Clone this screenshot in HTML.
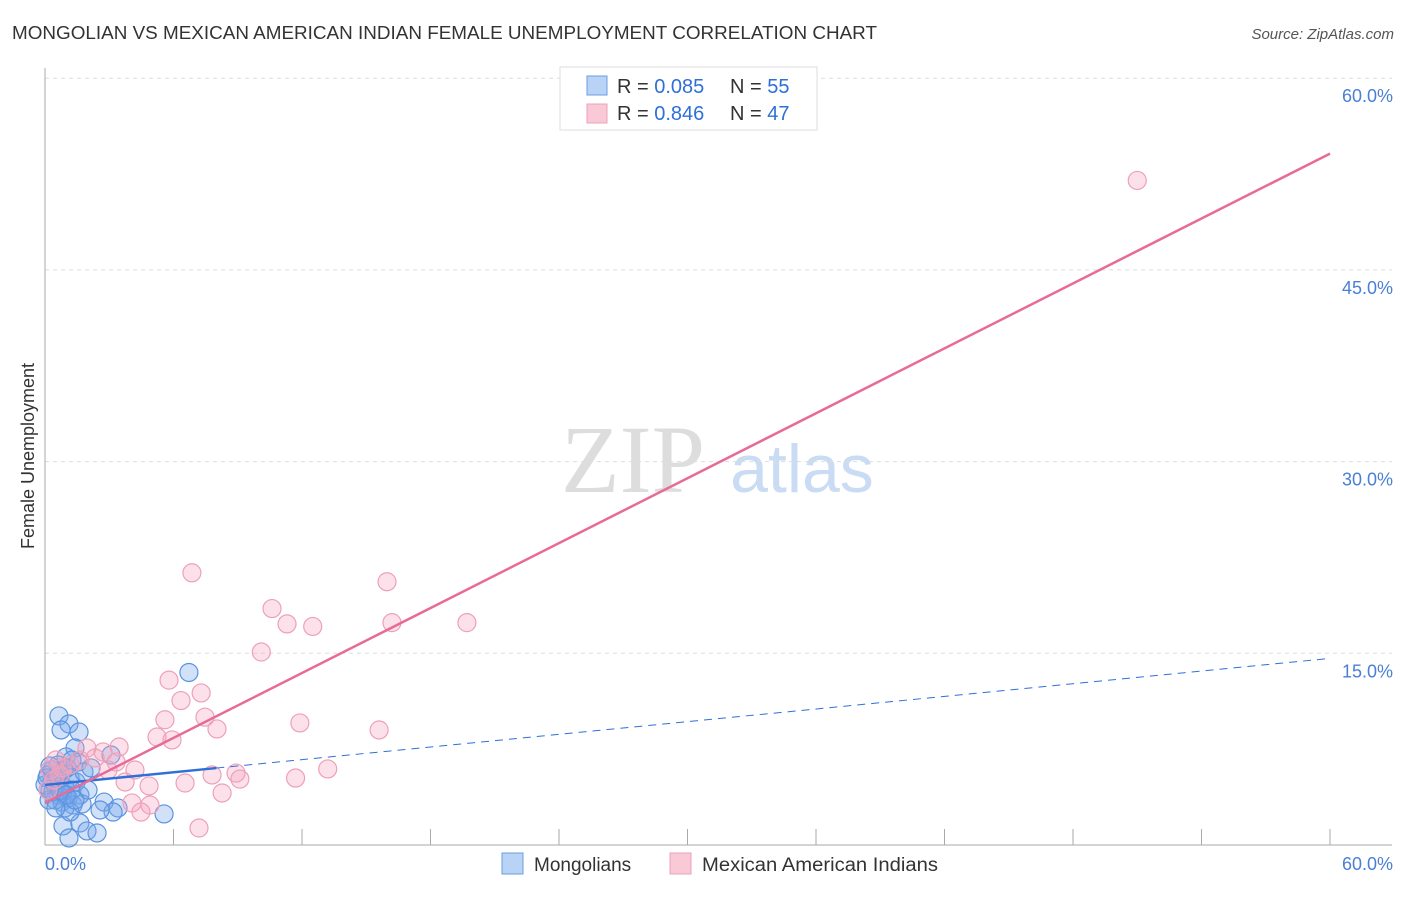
<!DOCTYPE html>
<html><head><meta charset="utf-8"><style>
body{margin:0;background:#fff;font-family:"Liberation Sans",sans-serif;}
</style></head><body>
<svg width="1406" height="892" xmlns="http://www.w3.org/2000/svg">
<text x="12" y="39" font-size="18" fill="#333" textLength="865" lengthAdjust="spacingAndGlyphs">MONGOLIAN VS MEXICAN AMERICAN INDIAN FEMALE UNEMPLOYMENT CORRELATION CHART</text>
<text x="1394" y="39" font-size="15" fill="#555" font-style="italic" text-anchor="end">Source: ZipAtlas.com</text>
<text x="633" y="492" font-size="96" fill="#ddd" font-family="Liberation Serif,serif" text-anchor="middle">ZIP</text>
<text x="802" y="492" font-size="68" fill="#c9dcf3" text-anchor="middle">atlas</text>
<g id="grid"></g>
<g id="axes"></g>
<g id="pts"></g>
<g id="lines"></g>
<text transform="translate(34,456) rotate(-90)" font-size="18" fill="#333" text-anchor="middle">Female Unemployment</text>
<g>
<rect x="560" y="67" width="257" height="63" fill="#fff" stroke="#ddd"/>
<rect x="587" y="76" width="20" height="19" fill="#b8d3f5" stroke="#6d9de0"/>
<text x="617" y="93" font-size="20" fill="#333">R = <tspan fill="#2f6fd8">0.085</tspan></text>
<text x="730" y="93" font-size="20" fill="#333">N = <tspan fill="#2f6fd8">55</tspan></text>
<rect x="587" y="104" width="20" height="19" fill="#f9c9d8" stroke="#eea0b8"/>
<text x="617" y="120" font-size="20" fill="#333">R = <tspan fill="#2f6fd8">0.846</tspan></text>
<text x="730" y="120" font-size="20" fill="#333">N = <tspan fill="#2f6fd8">47</tspan></text>
</g>
<g>
<rect x="502" y="853" width="21" height="21" fill="#b8d3f5" stroke="#6d9de0"/>
<text x="534" y="871" font-size="19" fill="#333">Mongolians</text>
<rect x="670" y="853" width="21" height="21" fill="#f9c9d8" stroke="#eea0b8"/>
<text x="702" y="871" font-size="19" fill="#333" textLength="236" lengthAdjust="spacingAndGlyphs">Mexican American Indians</text>
</g>
</svg>
<script>
const yTicks=[15,30,45,60];
const yTickLabels=["15.0%","30.0%","45.0%","60.0%"];
const xTickLabels=["0.0%","60.0%"];
const blueX=[0.65,1.12,0.75,1.59,1.40,0.98,3.08,6.72,0.33,1.17,0.70,0.14,0.47,0.93,1.26,0.23,0.61,1.07,1.63,0.79,1.31,1.73,2.76,3.41,3.18,0.93,0.47,2.57,5.56,0.84,1.63,1.96,2.43,1.12,0.33,0.19,0.61,1.03,1.45,2.01,0,0.09,0.37,1.17,0.70,0.98,1.40,0.51,0.89,1.54,1.82,2.15,1.26,0.56,0.23];
const blueY=[10.1,9.47,9.0,8.84,7.59,6.89,7.04,13.5,5.87,5.24,5.09,5.48,4.70,4.46,4.30,4.30,3.91,3.68,3.91,3.36,3.13,3.21,3.36,2.90,2.58,2.90,3.52,2.74,2.43,1.49,1.72,1.10,0.94,0.55,5.09,3.52,6.26,6.03,4.93,4.30,4.70,5.24,4.15,2.58,4.30,3.91,3.52,2.90,5.87,6.49,5.71,6.03,6.65,5.40,6.18];
const pinkX=[51.0,6.86,15.97,10.6,11.3,12.5,16.2,19.7,10.1,5.79,7.29,6.35,5.6,7.47,11.9,8.03,15.6,5.23,5.93,1.96,3.46,2.71,2.34,3.32,4.20,2.94,8.92,7.80,13.2,9.1,11.7,3.74,6.54,4.86,8.27,4.06,4.90,4.48,7.19,0.51,0.79,0.23,1.17,0.42,0.14,0.70,1.63];
const pinkY=[52.0,21.3,20.6,18.5,17.3,17.1,17.4,17.4,15.1,12.9,11.9,11.3,9.8,10.0,9.55,9.08,9.0,8.45,8.22,7.59,7.67,7.28,6.81,6.49,5.87,5.87,5.63,5.48,5.95,5.16,5.24,4.93,4.85,4.62,4.07,3.29,3.13,2.58,1.33,6.65,6.03,5.87,6.26,5.09,4.30,5.48,6.65];
const blueTrend=[4.7,14.6], blueSolidEnd=8.0;
const pinkTrend=[3.3,54.1];
const NS="http://www.w3.org/2000/svg";
const X=v=>45+v/60*1285, Y=v=>845-v/60*766.8;
function mk(t,a,p){const e=document.createElementNS(NS,t);for(const k in a)e.setAttribute(k,a[k]);p.appendChild(e);return e;}
const grid=document.getElementById('grid'),axes=document.getElementById('axes');
yTicks.forEach((t,i)=>{
 const l=mk('line',{x1:45,x2:1392,y1:Y(t),y2:Y(t),stroke:'#ddd','stroke-dasharray':'4,4'},grid);
 
 
 const tx=mk('text',{x:1393,y:Y(t)+24,'font-size':18,fill:'#4a7fd6','text-anchor':'end'},axes);
 tx.textContent=yTickLabels[i];
 
 
});
mk('line',{x1:45,x2:45,y1:68,y2:845,stroke:'#aaa'},axes);
mk('line',{x1:45,x2:1392,y1:845,y2:845,stroke:'#aaa'},axes);
for(let i=1;i<=10;i++){const t=mk('line',{x1:X(i*6),x2:X(i*6),y1:829,y2:845,stroke:'#aaa'},axes);
 
 }
const x0=mk('text',{x:45,y:870,'font-size':18,fill:'#4a7fd6'},axes);x0.textContent=xTickLabels[0];


const x1=mk('text',{x:1393,y:870,'font-size':18,fill:'#4a7fd6','text-anchor':'end'},axes);x1.textContent=xTickLabels[1];


const pts=document.getElementById('pts');
blueX.forEach((v,i)=>{const c=mk('circle',{cx:X(v),cy:Y(blueY[i]),r:9,fill:'rgba(120,170,235,0.35)',stroke:'#5b93e0','stroke-width':1.2},pts);
 
 });
pinkX.forEach((v,i)=>{const c=mk('circle',{cx:X(v),cy:Y(pinkY[i]),r:9,fill:'rgba(245,165,190,0.33)',stroke:'#eea0b8','stroke-width':1.2},pts);
 
 });
const lines=document.getElementById('lines');
const by=x=>blueTrend[0]+(blueTrend[1]-blueTrend[0])*x/60;
const l1=mk('line',{x1:X(0),y1:Y(by(0)),x2:X(blueSolidEnd),y2:Y(by(blueSolidEnd)),stroke:'#2f6fd8','stroke-width':2.5},lines);


const l2=mk('line',{x1:X(blueSolidEnd),y1:Y(by(blueSolidEnd)),x2:X(60),y2:Y(by(60)),stroke:'#2f6fd8','stroke-width':1,'stroke-dasharray':'8,6'},lines);


const l3=mk('line',{x1:X(0),y1:Y(pinkTrend[0]),x2:X(60),y2:Y(pinkTrend[1]),stroke:'#e86a98','stroke-width':2.5},lines);


</script>
</body></html>
